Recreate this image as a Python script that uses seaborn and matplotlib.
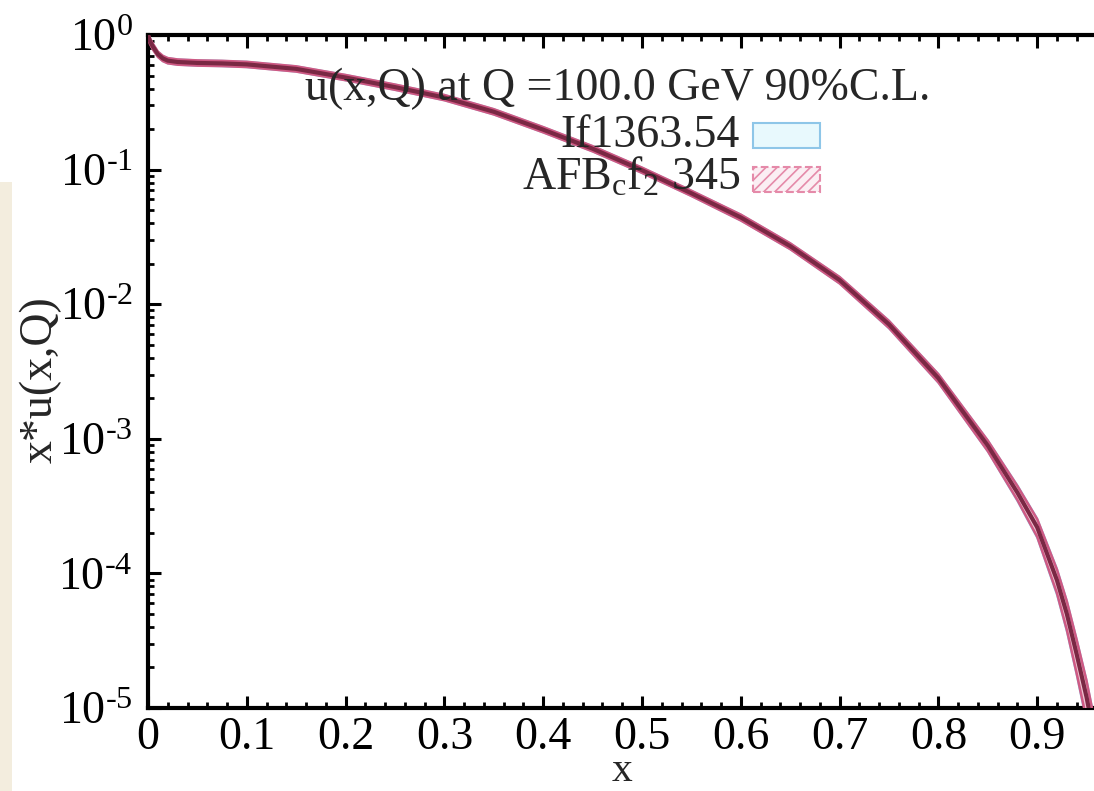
import numpy as np
import pandas as pd
import matplotlib
matplotlib.use("Agg")
import matplotlib.pyplot as plt
from matplotlib.patches import Rectangle
from matplotlib.ticker import MultipleLocator, LogLocator, NullFormatter, FixedLocator
import seaborn as sns

# ---- data ----
x_vals = [0.0005, 0.002, 0.005, 0.01, 0.015, 0.02, 0.03, 0.05, 0.075, 0.1, 0.15, 0.2,
          0.25, 0.3, 0.35, 0.4, 0.45, 0.5, 0.55, 0.6, 0.65, 0.7, 0.75, 0.8, 0.85,
          0.88, 0.9, 0.92, 0.93, 0.94, 0.95, 0.96]
xu_central = [0.97, 0.90, 0.82, 0.72, 0.67, 0.645, 0.63, 0.62, 0.615, 0.605, 0.56, 0.483,
              0.41, 0.343, 0.269, 0.198, 0.143, 0.099, 0.0667, 0.0441, 0.0270, 0.0151,
              0.00708, 0.00282, 8.9e-4, 3.98e-4, 2.2e-4, 8.9e-5, 5.0e-5, 2.5e-5, 1.2e-5,
              5e-6]
# relative half-widths of the two 90% C.L. bands
err_afb = [0.05, 0.05, 0.05, 0.045, 0.045, 0.045, 0.045, 0.045, 0.045, 0.045, 0.045, 0.045,
           0.045, 0.045, 0.045, 0.045, 0.045, 0.045, 0.045, 0.05, 0.05, 0.055, 0.06, 0.07,
           0.09, 0.12, 0.15, 0.20, 0.24, 0.28, 0.32, 0.36]
err_if = [0.055, 0.055, 0.055, 0.05, 0.05, 0.05, 0.05, 0.05, 0.05, 0.05, 0.05, 0.05,
          0.05, 0.05, 0.05, 0.05, 0.05, 0.05, 0.05, 0.055, 0.055, 0.06, 0.07, 0.08,
          0.10, 0.14, 0.17, 0.23, 0.27, 0.31, 0.36, 0.40]
legend_title = "u(x,Q) at Q =100.0 GeV 90%C.L."
legend_labels = ["If1363.54", "AFB$_{\\mathregular{c}}$f$_{\\mathregular{2}}$ 345"]
x_ticks = [0, 0.1, 0.2, 0.3, 0.4, 0.5, 0.6, 0.7, 0.8, 0.9]
x_tick_labels = ["0", "0.1", "0.2", "0.3", "0.4", "0.5", "0.6", "0.7", "0.8", "0.9"]
y_ticks = [1e-5, 1e-4, 1e-3, 1e-2, 1e-1, 1e0]
y_exponents = ["-5", "-4", "-3", "-2", "-1", "0"]

df = pd.DataFrame({"x": x_vals, "xu": xu_central,
                   "e_afb": err_afb, "e_if": err_if})

sns.set_theme(style="ticks")
plt.rcParams["font.family"] = ["Liberation Serif", "DejaVu Serif"]
plt.rcParams["mathtext.fontset"] = "custom"
plt.rcParams["mathtext.rm"] = "Liberation Serif"
plt.rcParams["mathtext.it"] = "Liberation Serif"
plt.rcParams["hatch.linewidth"] = 1.2

FS = 33

fig = plt.figure(figsize=(10.94, 7.91), dpi=100)
fig.patch.set_facecolor("white")
# decorative beige strip at the left edge
fig.patches.append(Rectangle((0, 0), 12 / 1094, 0.77, transform=fig.transFigure,
                             facecolor="#eadfc4", edgecolor="none", alpha=0.55, zorder=0))

ax = fig.add_axes([148 / 1094, 1 - 708 / 791, 988 / 1094, 673 / 791])

cyan_face = "#e8f9fd"
cyan_edge = "#8ec6e8"
pink_fill = "#efc3d2"
pink_edge = "#cf5a84"
dark = "#7a2844"

lo_if = df.xu * (1 - df.e_if)
hi_if = df.xu * (1 + df.e_if)
lo_afb = df.xu * (1 - df.e_afb)
hi_afb = df.xu * (1 + df.e_afb)

ax.fill_between(df.x, lo_if, hi_if, facecolor=cyan_face, edgecolor="none", zorder=1)
ax.plot(df.x, lo_if, color=cyan_edge, lw=1.2, zorder=2)
ax.plot(df.x, hi_if, color=cyan_edge, lw=1.2, zorder=2)
ax.fill_between(df.x, lo_afb, hi_afb, facecolor=pink_fill, edgecolor="none", zorder=3)
ax.plot(df.x, lo_afb, color=pink_edge, lw=1.8, zorder=4)
ax.plot(df.x, hi_afb, color=pink_edge, lw=1.8, zorder=4)
sns.lineplot(data=df, x="x", y="xu", ax=ax, color=dark, lw=3.0, zorder=5)

ax.set_yscale("log")
ax.set_xlim(0, 1)
ax.set_ylim(1e-5, 1)

ax.xaxis.set_major_locator(FixedLocator(x_ticks))
ax.set_xticklabels(x_tick_labels)
ax.xaxis.set_minor_locator(MultipleLocator(0.02))
ax.yaxis.set_major_locator(FixedLocator(y_ticks))
ax.set_yticklabels(["$\\mathregular{10^{\\text{" + e + "}}}$" for e in y_exponents])
ax.yaxis.set_minor_locator(LogLocator(base=10, subs=np.arange(2, 10), numticks=20))
ax.yaxis.set_minor_formatter(NullFormatter())

ax.tick_params(which="both", direction="in", top=True, right=True, colors="black",
               labelsize=FS)
ax.tick_params(which="major", length=9, width=2.2)
ax.tick_params(which="minor", length=4.5, width=2.0)
ax.tick_params(axis="x", pad=6)
ax.tick_params(axis="y", pad=11)
for s in ax.spines.values():
    s.set_linewidth(3.0)
    s.set_color("black")

ax.set_xlabel("x", fontsize=30, va="baseline")
ax.set_ylabel("x*u(x,Q)", fontsize=FS)
ax.xaxis.set_label_coords(0.48, -0.108)
ax.yaxis.set_label_coords(-0.087, 0.488)

# legend block (title, right-aligned labels, band keys)
ax.text(0.475, 0.903, legend_title, transform=ax.transAxes, ha="center",
        va="baseline", fontsize=FS, zorder=6)
ax.text(0.599, 0.834, legend_labels[0], transform=ax.transAxes, ha="right",
        va="baseline", fontsize=FS, zorder=6)
ax.text(0.599, 0.770, legend_labels[1], transform=ax.transAxes, ha="right",
        va="baseline", fontsize=FS, zorder=6)
ax.add_patch(Rectangle((0.612, 0.832), 0.068, 0.037, transform=ax.transAxes,
                       facecolor=cyan_face, edgecolor=cyan_edge, lw=1.5, zorder=6))
ax.add_patch(Rectangle((0.612, 0.767), 0.068, 0.037, transform=ax.transAxes,
                       facecolor="#fbeef3", edgecolor="#e58aa9", lw=1.5, ls="--",
                       hatch="///", zorder=6))

fig.savefig("out.png", dpi=100)
